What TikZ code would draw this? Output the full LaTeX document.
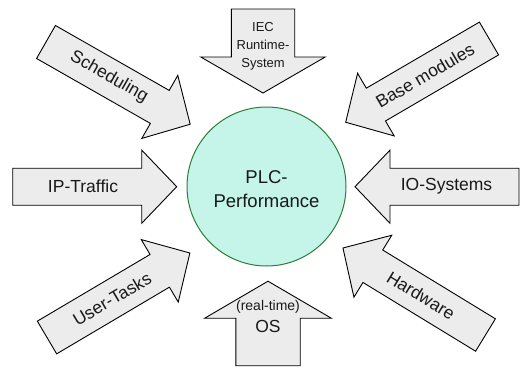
\documentclass[tikz,border=0pt]{standalone}
\usepackage{fontspec}
\setmainfont{Liberation Sans}
\definecolor{arrowfill}{HTML}{ECECEC}
\definecolor{discfill}{HTML}{C4F5E8}
\definecolor{discline}{HTML}{2E7D3A}
\tikzset{
  arrowbody/.style={draw=black, fill=arrowfill, line width=0.9pt, line join=miter},
  disc/.style={circle, draw=discline, fill=discfill, line width=1pt, minimum size=159pt, inner sep=0pt},
  biglabel/.style={font=\fontsize{17.5}{21}\selectfont, inner sep=0pt, text=black!90},
  smalllabel/.style={font=\fontsize{13}{18}\selectfont, inner sep=0pt, align=center, text=black!90},
  centrelabel/.style={font=\fontsize{18.5}{24}\selectfont, inner sep=0pt, align=center, text=black!90},
}
% block arrow: tail point, direction, total length, shaft half width,
% head half width, head length
\newcommand\blockarrow[6]{%
  \begin{scope}[shift={#1}, rotate=#2]
    \draw[arrowbody] (0,-#4) -- (#3-#6,-#4) -- (#3-#6,-#5) -- (#3,0)
      -- (#3-#6,#5) -- (#3-#6,#4) -- (0,#4) -- cycle;
  \end{scope}}
\begin{document}
\begin{tikzpicture}[x=1pt, y=1pt]
  \useasboundingbox (0,0) rectangle (520,368);

  % central disc
  \node[disc] (disc) at (266.5,181.5) {};
  \node[centrelabel] (plc) at (266.5,178.6) {PLC-\\Performance};

  % horizontal arrows
  \blockarrow{(12.7,181.3)}{0}{164}{18.5}{36.6}{35}
  \node[biglabel] (iptraffic) at (83,181.3) {IP-Traffic};
  \blockarrow{(519,181.3)}{180}{164}{18.5}{36.6}{35}
  \node[biglabel] (iosystems) at (446.5,181.3) {IO-Systems};

  % vertical arrows
  \blockarrow{(263,359)}{-90}{84}{31.7}{62.2}{36}
  \node[smalllabel] (iec) at (263,322) {IEC\\Runtime-\\System};
  \blockarrow{(268,2.3)}{90}{84.5}{32.2}{63.3}{37}
  \node[font=\fontsize{14}{16}\selectfont, inner sep=0pt, text=black!90] (realtime) at (268,61.3) {(real-time)};
  \node[biglabel] (os) at (268,41.3) {OS};

  % diagonal arrows
  \blockarrow{(46,326)}{-29.7}{166}{19}{36.3}{35}
  \node[biglabel, rotate=-29.7] (scheduling) at (109,291) {Scheduling};
  \blockarrow{(489,329.5)}{210.3}{166}{19}{36.3}{35}
  \node[biglabel, rotate=30.3] (basemodules) at (425,292.5) {Base modules};
  \blockarrow{(47,30.5)}{30.6}{166}{19}{36.3}{35}
  \node[biglabel, rotate=30.6] (usertasks) at (112,69) {User-Tasks};
  \blockarrow{(485.5,33)}{148.6}{167}{19}{36.3}{35}
  \node[biglabel, rotate=-31.4] (hardware) at (421,72.4) {Hardware};
\end{tikzpicture}
\end{document}
